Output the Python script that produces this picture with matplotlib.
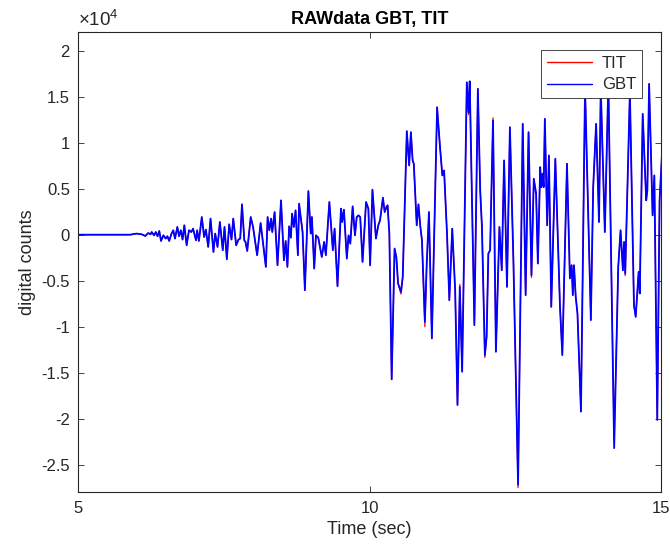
import numpy as np
import matplotlib
matplotlib.use("Agg")
import matplotlib.pyplot as plt

plt.rcParams['font.family'] = ['Liberation Sans', 'DejaVu Sans']
plt.rcParams['mathtext.fontset'] = 'custom'
plt.rcParams['mathtext.rm'] = 'Liberation Sans'

# Sample times (s) of the recorded waveform
time_s = np.array([
    5.00, 5.89, 6.00, 6.09, 6.15, 6.20, 6.24, 6.26, 6.30, 6.33, 6.36, 6.39,
    6.42, 6.46, 6.50, 6.53, 6.56, 6.60, 6.63, 6.66, 6.70, 6.73, 6.76, 6.79,
    6.82, 6.86, 6.90, 6.94, 6.97, 7.02, 7.04, 7.07, 7.12, 7.16, 7.19, 7.23,
    7.27, 7.32, 7.35, 7.39, 7.43, 7.48, 7.51, 7.55, 7.59, 7.63, 7.66, 7.71,
    7.75, 7.78, 7.81, 7.85, 7.87, 7.90, 7.96, 8.00, 8.07, 8.13, 8.18, 8.22,
    8.25, 8.28, 8.31, 8.33, 8.37, 8.42, 8.48, 8.53, 8.56, 8.59, 8.62, 8.65,
    8.67, 8.70, 8.73, 8.77, 8.79, 8.85, 8.89, 8.95, 8.99, 9.01, 9.05, 9.08,
    9.12, 9.18, 9.22, 9.25, 9.31, 9.37, 9.40, 9.45, 9.51, 9.53, 9.56, 9.61,
    9.64, 9.67, 9.71, 9.75, 9.78, 9.81, 9.84, 9.88, 9.94, 9.98, 10.01, 10.05,
    10.08, 10.11, 10.15, 10.18, 10.23, 10.26, 10.29, 10.31, 10.34, 10.38,
    10.43, 10.46, 10.49, 10.54, 10.57, 10.64, 10.68, 10.71, 10.74, 10.76,
    10.81, 10.84, 10.87, 10.90, 10.95, 10.98, 11.02, 11.07, 11.11, 11.16,
    11.21, 11.25, 11.28, 11.33, 11.37, 11.42, 11.47, 11.51, 11.55, 11.59,
    11.67, 11.70, 11.72, 11.80, 11.86, 11.90, 11.93, 11.98, 12.01, 12.04,
    12.07, 12.12, 12.17, 12.23, 12.27, 12.31, 12.36, 12.41, 12.47, 12.55,
    12.63, 12.68, 12.73, 12.78, 12.82, 12.86, 12.89, 12.93, 12.95, 12.97,
    12.99, 13.01, 13.05, 13.08, 13.12, 13.19, 13.27, 13.31, 13.39, 13.44,
    13.47, 13.49, 13.51, 13.54, 13.57, 13.63, 13.70, 13.80, 13.84, 13.89,
    13.94, 13.97, 14.04, 14.10, 14.20, 14.27, 14.31, 14.35, 14.37, 14.39,
    14.47, 14.54, 14.57, 14.62, 14.64, 14.69, 14.75, 14.77, 14.80, 14.86,
    14.89, 14.94, 14.98, 15.02,
])

# GBT station, raw digital counts
gbt_counts = np.array([
    0, 0, 120, 40, -140, 180, 40, 290, -70, 290, -170, 400,
    -680, -70, -420, -170, -680, 120, 480, -420, 840, -170, 480, -530,
    1020, -1150, 480, 290, 660, -610, 480, -680, 1920, -250, 550, -1330,
    1750, -1880, 120, -1330, 1380, -1690, 840, -2670, 1130, -530, 1750, -1150,
    -530, -420, 3300, -610, -790, -1770, 1920, 840, -2230, 1270, -1330, -3500,
    1920, 480, 1750, 290, 2460, -3320, 3730, -2780, -680, -3500, 910, -320,
    2290, 840, 2650, -2230, 3370, 290, -6030, 4740, 120, 1920, -3680, -70,
    -320, -2420, -790, -2230, 3550, -1690, 660, -5600, 2830, 1380, 2720, -2590,
    -70, -970, 3080, -70, 1920, 2100, 1920, -2960, 3550, 2830, -3320, 4890,
    2290, -420, 1020, 1560, 4020, 2460, 3000, 3190, 120, -15720,
    -1510, -2420, -5300, -6210, -4590, 11250, 7530, 11140, 8070, 7710,
    1020, 3300, 1020, -610, -9470, -3500, 2460, -11270, 120, 13850,
    9510, 6440, 6980, 120, -7120, 660, -6030, -18510, -5670, -14890,
    16560, 13310, 16670, -9830, 15850, 4820, 840, -13080, -11100, -2050,
    -1690, 12410, -12720, 840, -3860, 8070, -5670, 11680, -2780, -27180,
    12050, -6570, 11140, -4400, 6080, 4460, -3130, 7340, 5170, 6630,
    5170, 12590, 1020, 8610, -7840, 8250, -7840, -13080, 7710, -4760,
    -3320, -6570, -3320, -6760, -8560, -19230, 16000, -9280, 5170, 12050,
    1380, 16000, 290, 16500, -23200, -3500, 480, -3860, -790, -4220,
    15500, -7670, -8930, -4050, -6390, 13130, 3730, 4820, 16390, 2100,
    6440, -20130, 3730, 8610,
])

# TIT station: same trace except at these samples
tit_diff_time = [10.54, 10.95, 11.55, 11.70, 11.98, 12.12, 12.55, 12.78, 14.20, 14.39]
tit_diff_counts = [-6450, -10000, -5400, 13050, -13350, 12700, -27500, -4650, -22500, -4450]

tit_counts = gbt_counts.astype(float).copy()
for t, v in zip(tit_diff_time, tit_diff_counts):
    tit_counts[np.isclose(time_s, t)] = v

x_ticks = [5, 10, 15]
y_ticks = [-2.5, -2, -1.5, -1, -0.5, 0, 0.5, 1, 1.5, 2]
y_tick_labels = ['-2.5', '-2', '-1.5', '-1', '-0.5', '0', '0.5', '1', '1.5', '2']
y_scale = 1e4

ink = '#262626'

fig = plt.figure(figsize=(6.7, 5.5), dpi=100)
ax = fig.add_axes([0.1169, 0.1049, 0.8693, 0.8364])

ax.plot(time_s, tit_counts, color='#ff0000', lw=0.9, label='TIT',
        solid_joinstyle='round', solid_capstyle='round')
ax.plot(time_s, gbt_counts, color='#0000ff', lw=1.3, label='GBT',
        solid_joinstyle='round', solid_capstyle='round')

ax.set_xlim(5, 15)
ax.set_ylim(-28000, 22000)
ax.set_xticks(x_ticks)
ax.set_xticklabels([str(v) for v in x_ticks])
ax.set_yticks([v * y_scale for v in y_ticks])
ax.set_yticklabels(y_tick_labels)

ax.tick_params(direction='in', top=True, right=True, length=4, width=0.6,
               colors=ink, labelsize=12, pad=6)
for sp in ax.spines.values():
    sp.set_color(ink)
    sp.set_linewidth(0.8)

ax.text(0.0, 1.006, r'$\mathregular{\times10^{4}}$', transform=ax.transAxes,
        ha='left', va='bottom', fontsize=13.5, color=ink)

ax.set_title('RAWdata GBT, TIT', fontsize=13, fontweight='bold', color='black', pad=6)
ax.set_xlabel('Time (sec)', fontsize=13, color=ink, labelpad=4)
ax.set_ylabel('digital counts', fontsize=13, color=ink, labelpad=4)

leg = ax.legend(loc='upper right', bbox_to_anchor=(0.968, 0.9615), fontsize=12,
                frameon=True, fancybox=False, framealpha=1, borderaxespad=0,
                handlelength=2.7, borderpad=0.35, labelspacing=0.4,
                handletextpad=0.6)
leg.get_frame().set_edgecolor(ink)
leg.get_frame().set_linewidth(0.6)
for txt in leg.get_texts():
    txt.set_color(ink)
for line in leg.get_lines():
    line.set_linewidth(1.0)

fig.savefig('out.png', dpi=100, facecolor='white')
